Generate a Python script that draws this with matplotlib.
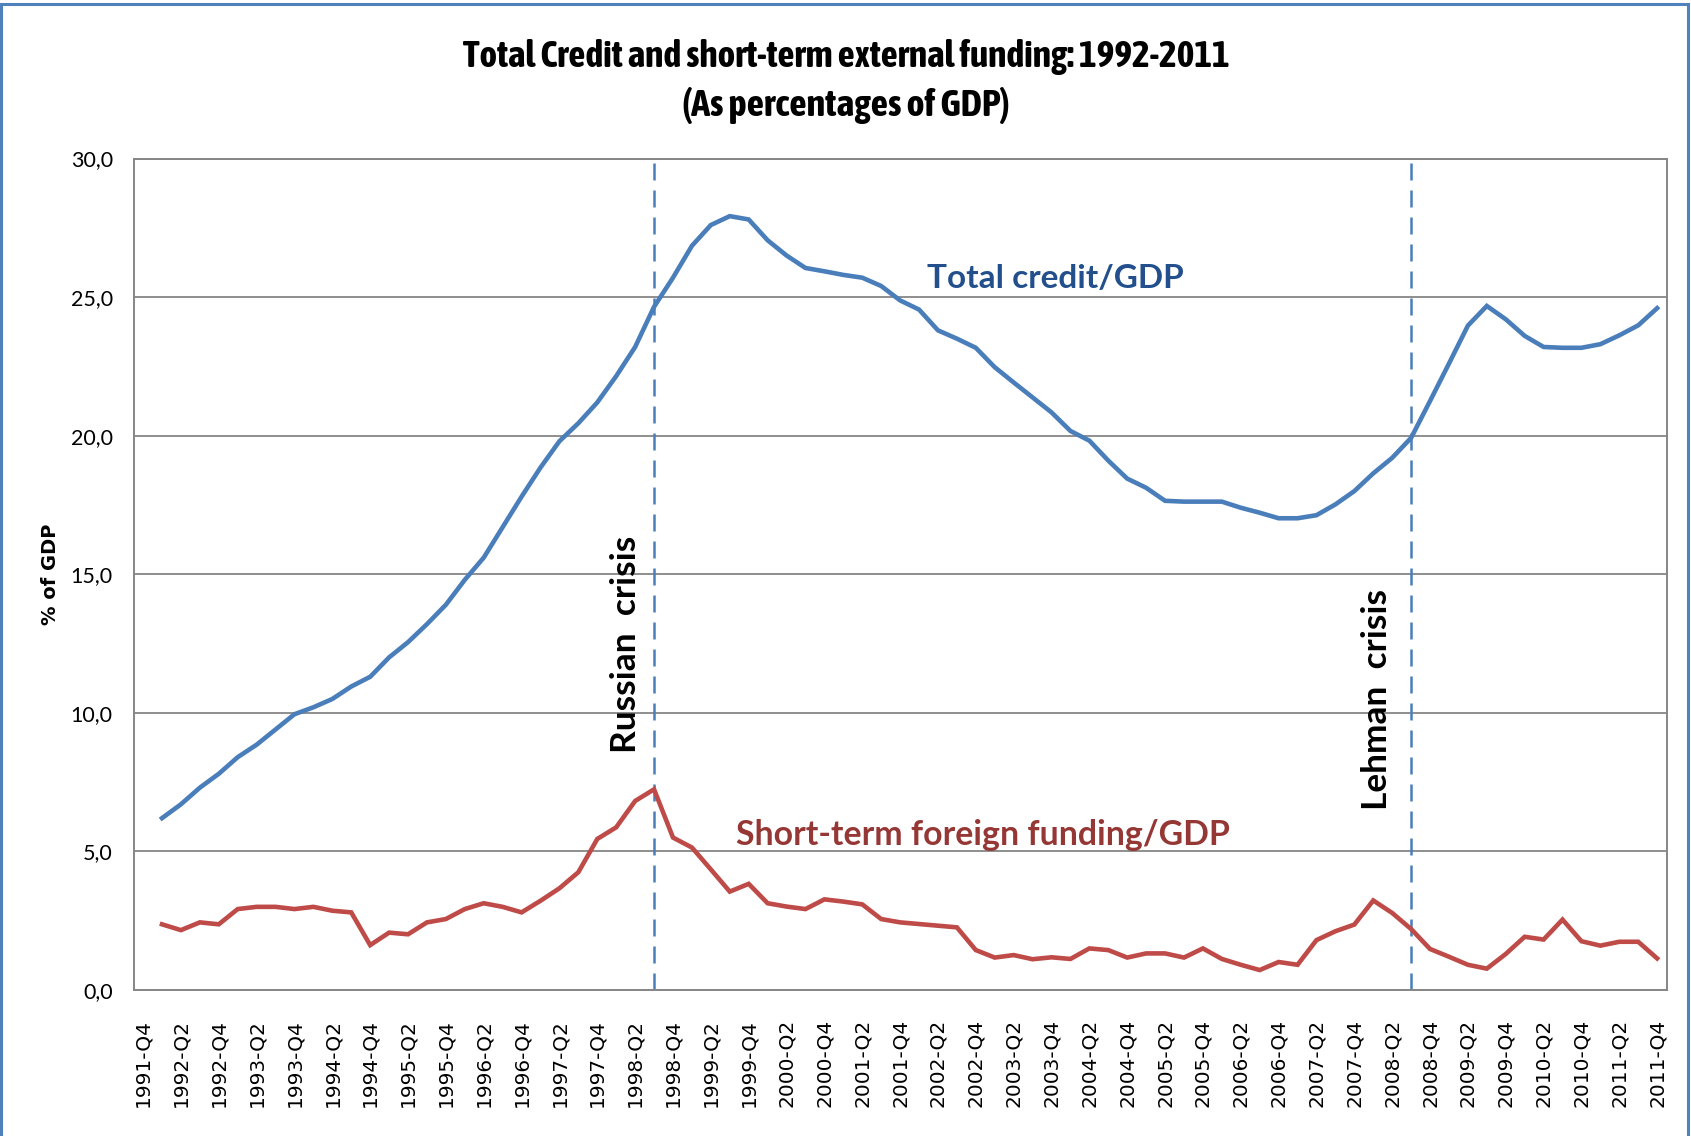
import matplotlib
matplotlib.use("Agg")
import matplotlib.pyplot as plt
from matplotlib.patches import Rectangle
from matplotlib.ticker import FuncFormatter, MultipleLocator
import numpy as np

# Quarterly categories 1991-Q4 .. 2011-Q4 (the first one carries no data)
quarters = [f"{y}-Q{q}" for y in range(1991, 2012) for q in range(1, 5)][3:]

# Total credit / GDP, 1992-Q1 .. 2011-Q4
total_credit = [
    6.2, 6.7, 7.3, 7.8, 8.4, 8.85, 9.4, 9.95, 10.2, 10.5,
    10.95, 11.3, 12.0, 12.55, 13.2, 13.9, 14.8, 15.6, 16.7, 17.8,
    18.85, 19.8, 20.45, 21.2, 22.15, 23.2, 24.65, 25.7, 26.85, 27.6,
    27.92, 27.8, 27.05, 26.5, 26.05, 25.93, 25.8, 25.7, 25.4, 24.88,
    24.55, 23.8, 23.5, 23.17, 22.47, 21.92, 21.38, 20.84, 20.17, 19.82,
    19.1, 18.45, 18.12, 17.65, 17.62, 17.62, 17.62, 17.4, 17.22, 17.02,
    17.02, 17.13, 17.52, 18.0, 18.64, 19.2, 19.92, 21.25, 22.6, 23.97,
    24.68, 24.2, 23.6, 23.2, 23.17, 23.17, 23.3, 23.62, 23.98, 24.6,
]

# Short-term foreign funding / GDP, 1992-Q1 .. 2011-Q4
short_term_funding = [
    2.37, 2.16, 2.44, 2.37, 2.92, 3.0, 3.0, 2.92, 3.0, 2.86,
    2.8, 1.62, 2.07, 2.01, 2.44, 2.56, 2.92, 3.13, 3.0, 2.8,
    3.22, 3.67, 4.25, 5.45, 5.87, 6.82, 7.24, 5.5, 5.14, 4.35,
    3.55, 3.83, 3.13, 3.01, 2.92, 3.27, 3.19, 3.09, 2.56, 2.44,
    2.38, 2.32, 2.26, 1.44, 1.17, 1.26, 1.11, 1.18, 1.12, 1.5,
    1.44, 1.17, 1.32, 1.32, 1.17, 1.5, 1.12, 0.91, 0.72, 1.01,
    0.91, 1.8, 2.12, 2.36, 3.23, 2.78, 2.2, 1.48, 1.2, 0.91,
    0.77, 1.3, 1.92, 1.82, 2.54, 1.76, 1.6, 1.74, 1.74, 1.14,
]

crisis_quarters = ["1998-Q3", "2008-Q3"]
crisis_labels = ["Russian  crisis", "Lehman  crisis"]

BLUE = "#4A7EBB"
RED = "#BE4B48"
GRID = "#868686"
ANNOT_FONT = ["Lato", "DejaVu Sans"]
TITLE_FONT = ["Asap Condensed", "DejaVu Sans"]

fig = plt.figure(figsize=(16.91, 11.36), dpi=100)
ax = fig.add_axes([133.6 / 1691, 146 / 1136, 1533 / 1691, 831.5 / 1136])

x_data = np.arange(1, len(total_credit) + 1)
ax.plot(x_data, total_credit, color=BLUE, lw=3.3, solid_joinstyle="miter", zorder=3)
ax.plot(x_data, short_term_funding, color=RED, lw=3.3, solid_joinstyle="miter", zorder=3)

for q in crisis_quarters:
    ax.axvline(quarters.index(q), color=BLUE, lw=1.8, ls=(0, (6.8, 4.0)), zorder=2)

ax.set_xlim(-0.5, len(quarters) - 0.5)
ax.set_ylim(0, 30)
ax.yaxis.set_major_locator(MultipleLocator(5))
ax.yaxis.set_major_formatter(FuncFormatter(lambda v, p: f"{v:.1f}".replace(".", ",")))
ax.grid(axis="y", color=GRID, lw=1.3)
ax.set_axisbelow(True)
for s in ax.spines.values():
    s.set_color(GRID)
    s.set_linewidth(1.4)

ax.set_xticks(range(0, len(quarters), 2))
ax.set_xticklabels(quarters[::2], rotation=90, fontsize=14.5, family="DejaVu Sans")
ax.tick_params(axis="x", length=0, pad=21)
ax.tick_params(axis="y", length=0, pad=15, labelsize=15.5)
for lab in ax.get_yticklabels():
    lab.set_family(ANNOT_FONT)

ax.set_ylabel("% of GDP", fontsize=14, fontweight="bold", family="DejaVu Sans")
ax.yaxis.set_label_coords(-0.0482, 0.5)

ax.text(48.2, 25.66, "Total credit/GDP", color="#23508C", fontsize=24,
        fontweight="bold", family=ANNOT_FONT, ha="center", va="center")
ax.text(44.4, 5.59, "Short-term foreign funding/GDP", color="#953735", fontsize=24.4,
        fontweight="bold", family=ANNOT_FONT, ha="center", va="center")
ax.text(25.5, 12.47, crisis_labels[0], color="black", fontsize=25.4, rotation=90,
        fontweight="bold", family=ANNOT_FONT, ha="center", va="center")
ax.text(65.2, 10.47, crisis_labels[1], color="black", fontsize=25.4, rotation=90,
        fontweight="bold", family=ANNOT_FONT, ha="center", va="center")

fig.text(846 / 1691, 1 - 57 / 1136, "Total Credit and short-term external funding: 1992-2011",
         fontsize=27, fontweight="bold", family=TITLE_FONT, ha="center", va="center")
fig.text(846 / 1691, 1 - 106 / 1136, "(As percentages of GDP)",
         fontsize=27.5, fontweight="bold", family=TITLE_FONT, ha="center", va="center")

fig.patches.append(Rectangle((1 / 1691, -0.02), 1687 / 1691, 1.02 - 4 / 1136,
                             transform=fig.transFigure, fill=False, edgecolor="#4F81BD",
                             lw=2.2, clip_on=False))

fig.savefig("out.png", dpi=100)
